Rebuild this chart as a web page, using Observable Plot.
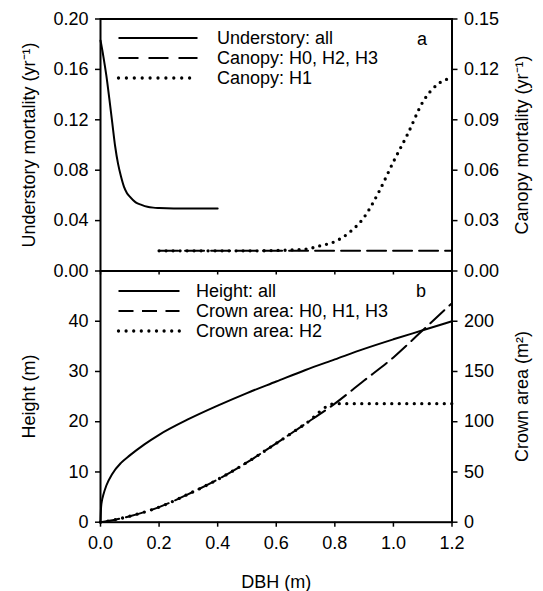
<!DOCTYPE html>
<html>
<head>
<meta charset="utf-8">
<script src="https://cdn.jsdelivr.net/npm/d3@7"></script>
<script src="https://cdn.jsdelivr.net/npm/@observablehq/plot@0.6"></script>
<style>
  body { margin: 0; background: #fff; }
  #wrap { position: relative; width: 543px; height: 591px; font-family: "Liberation Sans", Arial, sans-serif; }
  #bot, #top { position: absolute; left: 0; top: 0; }
  .legend { position: absolute; font-size: 18px; color: #000; }
  .legend .row { display: flex; align-items: center; height: 20px; white-space: nowrap; }
  .legend svg { display: block; overflow: visible; }
</style>
</head>
<body>
<div id="wrap">
  <div id="bot"></div>
  <div id="top"></div>
  <div class="legend" id="legA" style="left:117px;top:28px;"></div>
  <div class="legend" id="legB" style="left:117px;top:281px;"></div>
</div>
<script>
// ---------- data ----------
// Panel a: understory mortality (left axis, yr^-1)
const understoryDbh  = [0, 0.01, 0.02, 0.03, 0.04, 0.05, 0.06, 0.07, 0.08, 0.09, 0.10, 0.12, 0.14, 0.16, 0.18, 0.20, 0.25, 0.30, 0.40];
const understoryMort = [0.183, 0.170, 0.155, 0.137, 0.118, 0.099, 0.085, 0.075, 0.067, 0.062, 0.059, 0.0545, 0.0525, 0.051, 0.0503, 0.050, 0.0497, 0.0497, 0.0497];
// Panel a: canopy mortality (right axis, yr^-1)
const canopyFlatDbh  = [0.2, 1.2];
const canopyFlatMort = [0.012, 0.012];                // H0, H2, H3
const canopyH1Dbh  = [0.2, 0.3, 0.4, 0.5, 0.6, 0.65, 0.7, 0.75, 0.8, 0.85, 0.9, 0.95, 1.0, 1.05, 1.1, 1.15, 1.2];
const canopyH1Mort = [0.012, 0.012, 0.012, 0.012, 0.0122, 0.0125, 0.013, 0.015, 0.0175, 0.023, 0.032, 0.047, 0.065, 0.082, 0.1005, 0.111, 0.115];
// Panel b: height (left axis, m)
const heightDbh = [0, 0.002, 0.005, 0.01, 0.02, 0.04, 0.07, 0.10, 0.15, 0.20, 0.30, 0.40, 0.50, 0.60, 0.70, 0.80, 0.90, 1.00, 1.10, 1.20];
const heightVal = [0, 3.0, 4.3, 5.5, 7.3, 9.6, 11.8, 13.3, 15.5, 17.4, 20.5, 23.2, 25.7, 28.0, 30.3, 32.4, 34.5, 36.4, 38.2, 40.0];
// Panel b: crown area (right axis, m^2)
const crownDbh  = [0, 0.05, 0.10, 0.20, 0.30, 0.40, 0.50, 0.60, 0.70, 0.80, 0.90, 1.00, 1.10, 1.20];
const crownH013 = [0, 2.5, 6, 15, 28, 42.5, 59.5, 78.5, 98, 118, 141, 164, 191, 218];
const crownH2   = [0, 2.5, 6, 15, 28, 42.5, 59.5, 78.5, 98, 118, 118, 118, 118, 118];
// ticks
const xTicks = [0, 0.2, 0.4, 0.6, 0.8, 1.0, 1.2];
const understoryTicks = [0, 0.04, 0.08, 0.12, 0.16, 0.20];
const canopyTicks = [0, 0.03, 0.06, 0.09, 0.12, 0.15];
const heightTicks = [0, 10, 20, 30, 40];
const crownTicks = [0, 50, 100, 150, 200];
// legend texts
const legendA = ["Understory: all", "Canopy: H0, H2, H3", "Canopy: H1"];
const legendB = ["Height: all", "Crown area: H0, H1, H3", "Crown area: H2"];

// ---------- helpers ----------
const FONT = "Liberation Sans, Arial, sans-serif";
const FS = 18;
const k1 = 0.20 / 0.15;   // canopy -> understory scale
const k2 = 50 / 250;      // crown -> height scale
const rows = (xs, ys) => xs.map((x, i) => ({x, y: ys[i]}));
const DASH = "19,7";
const DOTW = 3.3;
const W = 543, ML = 100, MR = 543 - 451.5;
const common = {
  width: W, marginLeft: ML, marginRight: MR,
  style: {background: "transparent", fontFamily: FONT, fontSize: FS + "px", color: "#000", overflow: "visible"},
  x: {domain: [0, 1.2]}
};

// ---------- panel a ----------
const topChart = Plot.plot({
  ...common,
  height: 280, marginTop: 18.5, marginBottom: 9.5,
  y: {domain: [0, 0.2]},
  marks: [
    Plot.line(rows(understoryDbh, understoryMort), {x: "x", y: "y", curve: "monotone-x", stroke: "#000", strokeWidth: 2}),
    Plot.line(rows(canopyFlatDbh, canopyFlatMort), {x: "x", y: d => d.y * k1, stroke: "#000", strokeWidth: 2, strokeDasharray: DASH}),
    Plot.line(rows(canopyH1Dbh, canopyH1Mort), {x: "x", y: d => d.y * k1, curve: "monotone-x", stroke: "#000", strokeWidth: DOTW, strokeDasharray: "0,7", strokeLinecap: "round"}),
    Plot.axisY({anchor: "left", ticks: understoryTicks, tickFormat: d3.format(".2f"), tickSize: 5, tickPadding: 7, strokeWidth: 1.5,
      fontSize: FS, label: "Understory mortality (yr⁻¹)", labelAnchor: "center", labelArrow: "none", labelOffset: 78}),
    Plot.axisY({anchor: "right", ticks: canopyTicks.map(t => t * k1), tickFormat: t => d3.format(".2f")(t / k1), tickSize: 5, tickPadding: 7, strokeWidth: 1.5,
      fontSize: FS, label: "Canopy mortality (yr⁻¹)", labelAnchor: "center", labelArrow: "none", labelOffset: 76}),
    Plot.axisX({anchor: "bottom", ticks: xTicks, tickFormat: () => "", tickSize: 4, strokeWidth: 1.5, label: null}),
    Plot.frame({stroke: "#000", strokeWidth: 2}),
    Plot.text(["a"], {frameAnchor: "top-right", dx: -25, dy: 13, fontSize: FS, fill: "#000"})
  ]
});
document.getElementById("top").appendChild(topChart);

// ---------- panel b ----------
const botChart = Plot.plot({
  ...common,
  height: 591, marginTop: 270.5, marginBottom: 591 - 521.7,
  y: {domain: [0, 50]},
  marks: [
    Plot.line(rows(heightDbh, heightVal), {x: "x", y: "y", curve: "monotone-x", stroke: "#000", strokeWidth: 2}),
    Plot.line(rows(crownDbh, crownH013), {x: "x", y: d => d.y * k2, curve: "monotone-x", stroke: "#000", strokeWidth: 2, strokeDasharray: DASH}),
    Plot.line(rows(crownDbh, crownH2), {x: "x", y: d => d.y * k2, curve: "monotone-x", stroke: "#000", strokeWidth: DOTW, strokeDasharray: "0,7.5", strokeLinecap: "round"}),
    Plot.axisY({anchor: "left", ticks: heightTicks, tickFormat: d3.format("d"), tickSize: 5, tickPadding: 7, strokeWidth: 1.5,
      fontSize: FS, label: "Height (m)", labelAnchor: "center", labelArrow: "none", labelOffset: 78}),
    Plot.axisY({anchor: "right", ticks: crownTicks.map(t => t * k2), tickFormat: t => d3.format("d")(Math.round(t / k2)), tickSize: 5, tickPadding: 7, strokeWidth: 1.5,
      fontSize: FS, label: "Crown area (m²)", labelAnchor: "center", labelArrow: "none", labelOffset: 76}),
    Plot.axisX({anchor: "bottom", ticks: xTicks, tickFormat: d3.format(".1f"), tickSize: 5, tickPadding: 9, strokeWidth: 1.5,
      fontSize: FS, label: "DBH (m)", labelAnchor: "center", labelArrow: "none", labelOffset: 66}),
    Plot.frame({stroke: "#000", strokeWidth: 2}),
    Plot.text(["b"], {frameAnchor: "top-right", dx: -26, dy: 13.5, fontSize: FS, fill: "#000"})
  ]
});
document.getElementById("bot").appendChild(botChart);

// ---------- legends ----------
function buildLegend(id, labels, lineW, gap, dash, dot) {
  const styles = [
    {dasharray: null, width: 2, cap: "butt"},
    {dasharray: dash, width: 2, cap: "butt"},
    {dasharray: dot, width: DOTW, cap: "round"}
  ];
  const div = d3.select("#" + id);
  labels.forEach((t, i) => {
    const row = div.append("div").attr("class", "row");
    const svg = row.append("svg").attr("width", lineW + 2).attr("height", 20).style("margin-right", gap + "px");
    const ln = svg.append("line").attr("x1", 1.5).attr("x2", lineW + 0.5).attr("y1", 10).attr("y2", 10)
      .attr("stroke", "#000").attr("stroke-width", styles[i].width).attr("stroke-linecap", styles[i].cap);
    if (styles[i].dasharray) ln.attr("stroke-dasharray", styles[i].dasharray);
    row.append("span").text(t);
  });
}
buildLegend("legA", legendA, 80, 18, "20,10", "0,7.9");
buildLegend("legB", legendB, 62, 15, "15,8.5", "0,7.6");
</script>
</body>
</html>
